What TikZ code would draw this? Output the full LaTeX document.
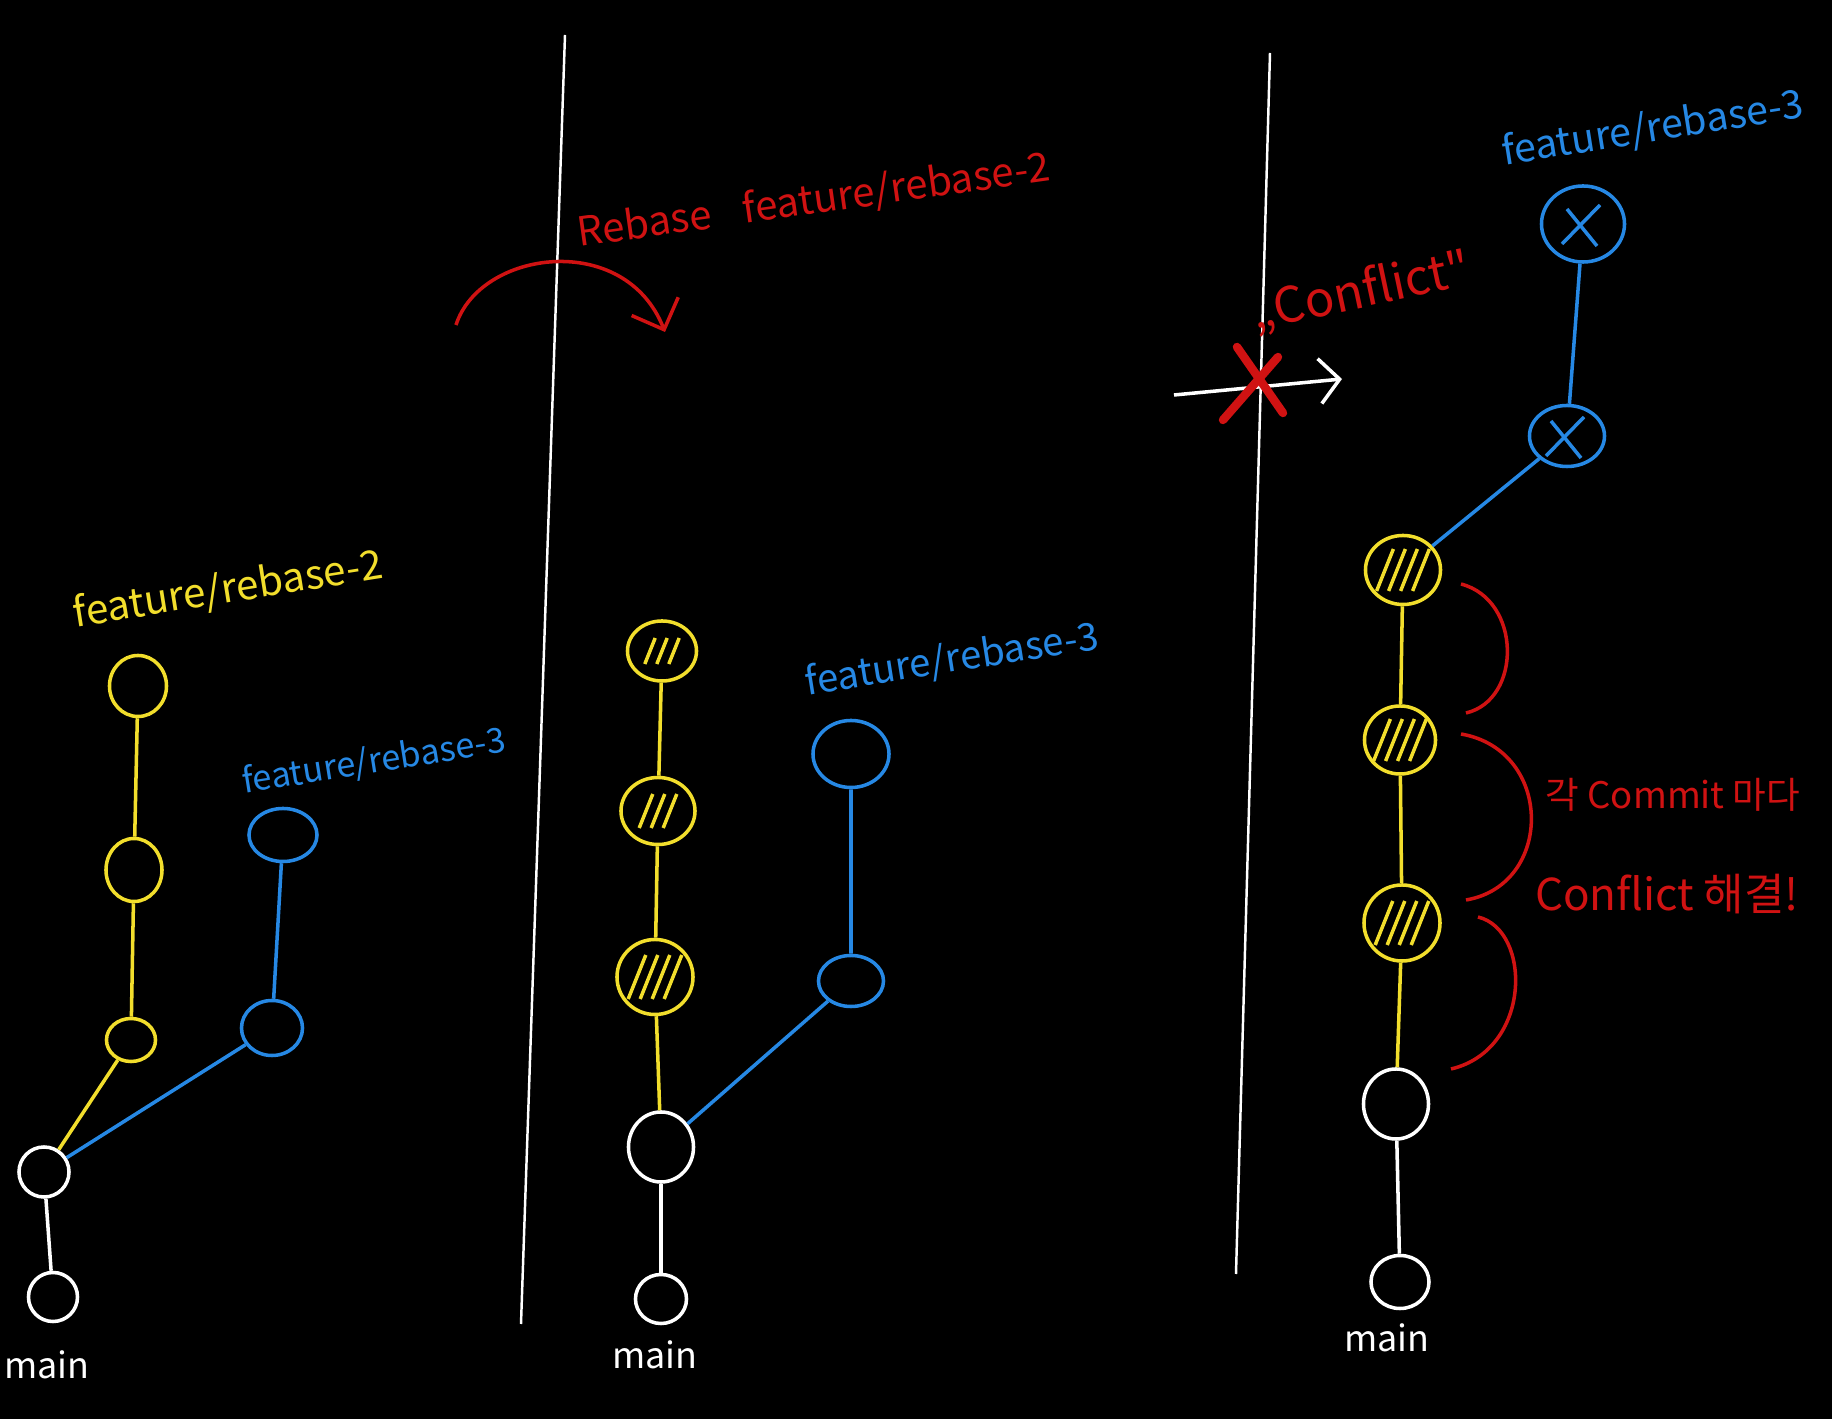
\documentclass[tikz,border=0pt]{standalone}
\usepackage{fontspec}
\newfontfamily\krfont{Noto Sans CJK KR}
\usepackage{tikz}
\definecolor{hwyellow}{RGB}{242,222,44}
\definecolor{hwblue}{RGB}{38,136,228}
\definecolor{hwred}{RGB}{208,18,18}
\usetikzlibrary{arrows.meta,calc,shapes.geometric}

% diagonal strokes inside a rewritten commit
\newcommand{\hatch}[3]{%
  \foreach \k in {1,...,#2}{
    \draw[hwyellow] ($(#1)+({(\k-(#2+1)/2)*12-0.2*#3},{0.5*#3})$) -- ++({0.4*#3},{-#3});
  }
}
% cross inside a conflicting commit
\newcommand{\commitx}[1]{%
  \draw[hwblue] ($(#1)+(-16,-15)$) -- ($(#1)+(14,22)$);
  \draw[hwblue] ($(#1)+(-21,20)$) -- ($(#1)+(17,-19)$);
}

\begin{document}
\begin{tikzpicture}[x=0.01cm, y=-0.01cm, line width=1pt,
  commit/.style={ellipse, draw, inner sep=0pt},
  ylw/.style={commit, draw=hwyellow},
  blu/.style={commit, draw=hwblue},
  wht/.style={commit, draw=white},
  hand/.style={font={\krfont\fontsize{#1}{#1}\selectfont}, inner sep=1pt}]
\useasboundingbox (0,0) rectangle (1832,1419);
\fill[black] (0,0) rectangle (1832,1419);

% Left: before rebase
\foreach \nm/\px/\py/\w/\h in {ly1/138/686/.57cm/.61cm, ly2/134/870/.56cm/.63cm, ly3/131/1040/.49cm/.43cm}
  \node[ylw, minimum width=\w, minimum height=\h] (\nm) at (\px,\py) {};
\foreach \nm/\px/\py/\w/\h in {lb1/283/835/.68cm/.53cm, lb2/272/1028/.61cm/.55cm}
  \node[blu, minimum width=\w, minimum height=\h] (\nm) at (\px,\py) {};
\foreach \nm/\px/\py/\w/\h in {lw1/44/1172/.50cm/.50cm, lw2/53/1297/.49cm/.49cm}
  \node[wht, minimum width=\w, minimum height=\h] (\nm) at (\px,\py) {};
\draw[hwyellow] (ly1) -- (ly2) -- (ly3) -- (lw1);
\draw[hwblue] (lb1) -- (lb2) -- (lw1);
\draw[white] (lw1) -- (lw2);
\node[hand=11.5, hwyellow, rotate=9] (lblL2) at (228,590) {feature/rebase-2};
\node[hand=9.8, hwblue, rotate=9] (lblL3) at (374,762) {feature/rebase-3};
\node[hand=10.2, white] (mainL) at (47,1365) {main};

% Divider
\draw[white, line width=0.7pt] (565,35) -- (521,1324);

% Middle: rebase feature/rebase-2
\coordinate (rbs) at (456,325);
\coordinate (rbe) at (665,332);
\draw[hwred, -{Straight Barb[length=2.5mm, width=5mm]}] (rbs) .. controls (480,250) and (625,230) .. (rbe);
\node[hand=11.4, hwred, rotate=8] (lblRb) at (814,201) {Rebase\hspace{0.8em}feature/rebase-2};
\foreach \nm/\px/\py/\w/\h in {my1/662/651/.69cm/.60cm, my2/658/811/.74cm/.67cm, my3/655/977/.76cm/.75cm}
  \node[ylw, minimum width=\w, minimum height=\h] (\nm) at (\px,\py) {};
\hatch{my1}{3}{26}
\hatch{my2}{3}{34}
\hatch{my3}{4}{44}
\foreach \nm/\px/\py/\w/\h in {mb1/851/754/.76cm/.67cm, mb2/851/981/.65cm/.51cm}
  \node[blu, minimum width=\w, minimum height=\h] (\nm) at (\px,\py) {};
\foreach \nm/\px/\py/\w/\h in {mw1/661/1147/.65cm/.70cm, mw2/661/1299/.51cm/.49cm}
  \node[wht, minimum width=\w, minimum height=\h] (\nm) at (\px,\py) {};
\draw[hwyellow] (my1) -- (my2) -- (my3) -- (mw1);
\draw[hwblue] (mb1) -- (mb2) -- (mw1);
\draw[white] (mw1) -- (mw2);
\node[hand=10.9, hwblue, rotate=9] (lblM3) at (952,660) {feature/rebase-3};
\node[hand=10.2, white] (mainM) at (655,1355) {main};

% Divider
\draw[white, line width=0.7pt] (1270,53) -- (1236,1274);

% Right: rebase feature/rebase-3
\coordinate (cfs) at (1174,395);
\coordinate (cfe) at (1342,379);
\draw[white, -{Straight Barb[length=2mm, width=4.5mm]}] (cfs) -- (cfe);
\draw[hwred, line width=2.4pt, line cap=round] (1237,347) -- (1283,413);
\draw[hwred, line width=2.4pt, line cap=round] (1223,420) -- (1278,357);
\node[hand=13.9, hwred, rotate=12] (lblCf) at (1361,292) {„Conflict"};
\foreach \nm/\px/\py/\w/\h in {rb1/1583/224/.83cm/.76cm, rb2/1567/436/.75cm/.61cm}
  \node[blu, minimum width=\w, minimum height=\h] (\nm) at (\px,\py) {};
\commitx{rb1}
\commitx{rb2}
\foreach \nm/\px/\py/\w/\h in {ry1/1403/570/.75cm/.69cm, ry2/1400/740/.71cm/.68cm, ry3/1402/923/.76cm/.76cm}
  \node[ylw, minimum width=\w, minimum height=\h] (\nm) at (\px,\py) {};
\hatch{ry1}{4}{42}
\hatch{ry2}{4}{42}
\hatch{ry3}{4}{44}
\foreach \nm/\px/\py/\w/\h in {rw1/1396/1104/.65cm/.70cm, rw2/1400/1282/.58cm/.53cm}
  \node[wht, minimum width=\w, minimum height=\h] (\nm) at (\px,\py) {};
\draw[hwblue] (rb1) -- (rb2) -- (ry1);
\draw[hwyellow] (ry1) -- (ry2) -- (ry3) -- (rw1);
\draw[white] (rw1) -- (rw2);
\node[hand=11.2, hwblue, rotate=9] (lblR3) at (1653,129) {feature/rebase-3};
\node[hand=10.2, white] (mainR) at (1387,1338) {main};
% Conflict per commit
\draw[hwred] (1461,584) .. controls (1522,600) and (1522,700) .. (1466,713);
\draw[hwred] (1461,734) .. controls (1554,750) and (1554,885) .. (1466,900);
\draw[hwred] (1478,917) .. controls (1532,930) and (1532,1050) .. (1451,1069);
\node[hand=10.4, hwred] (lblEach) at (1673,795) {각 Commit 마다};
\node[hand=12.5, hwred] (lblFix) at (1667,894) {Conflict 해결!};
\end{tikzpicture}
\end{document}
